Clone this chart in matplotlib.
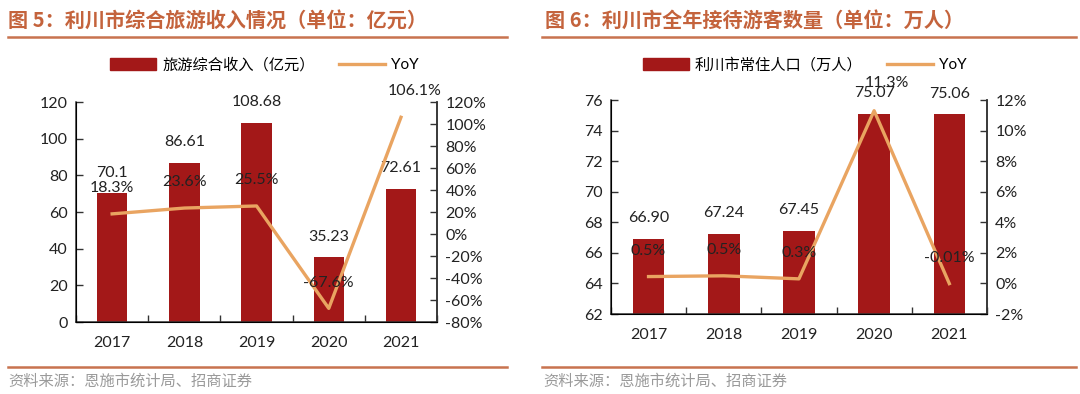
import numpy as np
import matplotlib.pyplot as plt
from matplotlib.ticker import FuncFormatter
from matplotlib.patches import Patch
from matplotlib.lines import Line2D

plt.rcParams['font.family'] = ['Lato', 'Noto Sans CJK SC', 'DejaVu Sans']

# data
years = ['2017', '2018', '2019', '2020', '2021']
income = [70.1, 86.61, 108.68, 35.23, 72.61]
income_labels = ['70.1', '86.61', '108.68', '35.23', '72.61']
income_yoy = [18.3, 23.6, 25.5, -67.6, 106.1]
income_yoy_labels = ['18.3%', '23.6%', '25.5%', '-67.6%', '106.1%']

visitors = [66.90, 67.24, 67.45, 75.07, 75.06]
visitors_labels = ['66.90', '67.24', '67.45', '75.07', '75.06']
visitors_yoy = [0.45, 0.5, 0.3, 11.3, -0.01]
visitors_yoy_labels = ['0.5%', '0.5%', '0.3%', '11.3%', '-0.01%']

bar_color = '#A31818'
line_color = '#E9A461'
title_color = '#C4633C'
rule_color = '#C8734F'
text_color = '#222222'

fig = plt.figure(figsize=(10.8, 3.94), dpi=100)


def draw_panel(rect, vals, vlabels, yoy, ylabels, ylim, yticks, y2lim, y2ticks,
               legend_name, legend_x, yoy_dy):
    ax = fig.add_axes(rect)
    x = np.arange(len(years))
    ax.bar(x, vals, width=0.42, color=bar_color, zorder=2)
    ax.set_xlim(-0.5, len(years) - 0.5)
    ax.set_ylim(*ylim)
    ax.set_yticks(yticks)
    ax.set_xticks(x)
    ax.set_xticklabels(years, fontsize=11.5, color=text_color)
    ax.set_xticks(np.arange(-0.5, len(years), 1.0), minor=True)
    ax.tick_params(axis='x', which='major', length=0, pad=10)
    ax.tick_params(axis='x', which='minor', direction='in', length=5, width=1, color='#333333')
    ax.tick_params(axis='y', direction='in', length=5, width=1, color='#333333',
                   labelsize=11.5, labelcolor=text_color, pad=6)
    ax.spines['top'].set_visible(False)
    for s in ['left', 'bottom', 'right']:
        ax.spines[s].set_color('#333333')
        ax.spines[s].set_linewidth(1.1)
    for xi, v, lab in zip(x, vals, vlabels):
        ax.annotate(lab, (xi, v), xytext=(0, 15), textcoords='offset points',
                    ha='center', va='center', fontsize=11.5, color=text_color)

    ax2 = ax.twinx()
    ax2.plot(x, yoy, color=line_color, lw=2.4, zorder=3)
    ax2.set_ylim(*y2lim)
    ax2.set_yticks(y2ticks)
    ax2.yaxis.set_major_formatter(FuncFormatter(lambda v, p: f'{v:.0f}%'))
    ax2.tick_params(axis='y', direction='in', length=5, width=1, color='#333333',
                    labelsize=11.5, labelcolor=text_color, pad=6)
    ax2.spines['top'].set_visible(False)
    ax2.spines['right'].set_color('#333333')
    ax2.spines['right'].set_linewidth(1.1)
    for xi, v, lab, (dx, dy) in zip(x, yoy, ylabels, yoy_dy):
        ax2.annotate(lab, (xi, v), xytext=(dx, dy), textcoords='offset points',
                     ha='center', va='center', fontsize=11.5, color=text_color)

    handles = [Patch(color=bar_color), Line2D([0], [0], color=line_color, lw=2.4)]
    fig.legend(handles, [legend_name, 'YoY'], loc='center', bbox_to_anchor=(legend_x, 0.835),
               ncol=2, frameon=False, fontsize=11, handlelength=3.0, handleheight=0.9,
               columnspacing=1.6, handletextpad=0.4)
    return ax


draw_panel([0.0704, 0.1827, 0.3343, 0.5584], income, income_labels, income_yoy,
           income_yoy_labels, (0, 120), np.arange(0, 121, 20), (-80, 120),
           np.arange(-80, 121, 20), '旅游综合收入（亿元）', 0.245,
           [(0, 18.5), (0, 18.5), (0, 18.5), (0, 18.5), (10, 19)])

draw_panel([0.5657, 0.2030, 0.3481, 0.5431], visitors, visitors_labels, visitors_yoy,
           visitors_yoy_labels, (62, 76), np.arange(62, 77, 2), (-2, 12),
           np.arange(-2, 13, 2), '利川市常住人口（万人）', 0.745,
           [(0, 18.5), (0, 18.5), (0, 18.5), (9, 20), (0, 18.5)])

# titles and rules
fig.text(8 / 1080, 1 - 20 / 394, '图 5：利川市综合旅游收入情况（单位：亿元）', fontsize=14.5,
         fontweight='bold', color=title_color, va='center', ha='left', family='Noto Sans CJK SC')
fig.text(545 / 1080, 1 - 20 / 394, '图 6：利川市全年接待游客数量（单位：万人）', fontsize=14.5,
         fontweight='bold', color=title_color, va='center', ha='left', family='Noto Sans CJK SC')
for x0, x1 in [(8, 507), (542, 1076)]:
    fig.add_artist(Line2D([x0 / 1080, x1 / 1080], [1 - 37 / 394] * 2, color=rule_color, lw=1.8))
    fig.add_artist(Line2D([x0 / 1080, x1 / 1080], [1 - 367 / 394] * 2, color=rule_color, lw=1.8))

fig.text(8 / 1080, 1 - 381 / 394, '资料来源：恩施市统计局、招商证券', fontsize=11, color='#9a9a9a',
         va='center', ha='left', family='Noto Sans CJK SC')
fig.text(543 / 1080, 1 - 381 / 394, '资料来源：恩施市统计局、招商证券', fontsize=11, color='#9a9a9a',
         va='center', ha='left', family='Noto Sans CJK SC')

fig.savefig('out.png', dpi=100)
